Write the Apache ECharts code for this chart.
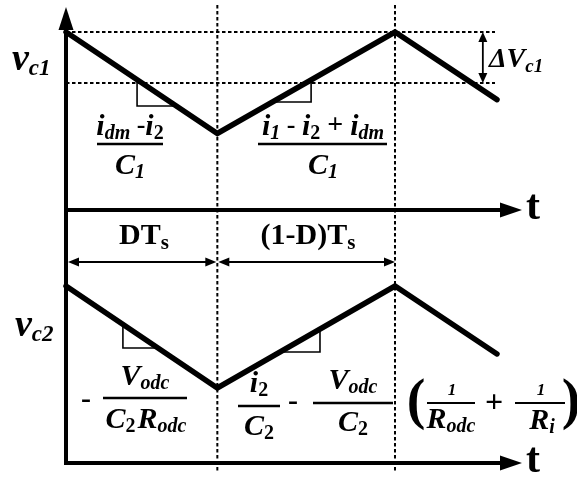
<!DOCTYPE html>
<html>
<head>
<meta charset="utf-8">
<script src="https://cdn.jsdelivr.net/npm/echarts@6/dist/echarts.min.js"></script>
<style>
html,body{margin:0;padding:0;background:#fff;}
#chart{width:577px;height:479px;}
</style>
</head>
<body>
<div id="chart"></div>
<script>
// Switching period normalised to Ts = 1, duty ratio D
const D = 0.46;
const timePoints = [0, D, 1, 1.31];
const vc1Values = [1, 0.43, 1, 0.62];
const vc2Values = [1, 0.424, 1, 0.616];
// Ripple band levels for ΔVc1 and where its dashed guides stop
const rippleLevels = [1, 0.7135];
const rippleGuideEnd = 1.304;
const rippleArrowT = 1.267;
// Slope markers (right-angle triangles) on each ramp
const slopeTopFall = [[0.216, 0.732], [0.216, 0.584], [0.336, 0.584]];
const slopeTopRise = [[0.628, 0.607], [0.745, 0.607], [0.745, 0.731]];
const slopeBotFall = [[0.173, 0.783], [0.173, 0.65], [0.28, 0.65]];
const slopeBotRise = [[0.65, 0.627], [0.772, 0.627], [0.772, 0.757]];
// Level of the interval arrows (bottom panel units)
const intervalLevel = 1.1356;

const X_MAX = 1.3526;
const Y1_MAX = 1.0758;
const Y2_MAX = 1.4294;

const FONT = '"Liberation Serif", "Times New Roman", serif';
const chart = echarts.init(document.getElementById('chart'), null, {renderer: 'canvas'});

const pair = (ts, vs) => ts.map((t, i) => [t, vs[i]]);

function axisStyle(arrowSize) {
  const a = {
    show: true,
    onZero: false,
    lineStyle: {color: '#000', width: 4, cap: 'square'}
  };
  if (arrowSize) {
    a.symbol = ['none', 'triangle'];
    a.symbolSize = arrowSize;
  }
  return a;
}
const hidden = {axisTick: {show: false}, axisLabel: {show: false}, splitLine: {show: false}};

function waveSeries(idx, data) {
  return {
    type: 'line', xAxisIndex: idx, yAxisIndex: idx, data: data,
    symbol: 'none', silent: true, animation: false, clip: false,
    lineStyle: {color: '#000', width: 5.5, join: 'miter', cap: 'round'}
  };
}
function slopeSeries(idx, data) {
  return {
    type: 'line', xAxisIndex: idx, yAxisIndex: idx, data: data,
    symbol: 'none', silent: true, animation: false, z: 1,
    lineStyle: {color: '#000', width: 1.6, join: 'miter'}
  };
}

const option = {
  animation: false,
  backgroundColor: '#fff',
  grid: [
    {left: 66, top: 18.5, width: 445, height: 191.5},
    {left: 66, top: 210, width: 445, height: 253}
  ],
  xAxis: [
    Object.assign({type: 'value', gridIndex: 0, min: 0, max: X_MAX, axisLine: axisStyle([15, 22])}, hidden),
    Object.assign({type: 'value', gridIndex: 1, min: 0, max: X_MAX, axisLine: axisStyle([15, 22])}, hidden)
  ],
  yAxis: [
    Object.assign({type: 'value', gridIndex: 0, min: 0, max: Y1_MAX, axisLine: axisStyle([15, 23])}, hidden),
    Object.assign({type: 'value', gridIndex: 1, min: 0, max: Y2_MAX, axisLine: axisStyle(null)}, hidden)
  ],
  series: [
    Object.assign(waveSeries(0, pair(timePoints, vc1Values)), {
      markLine: {
        silent: true, symbol: 'none', label: {show: false}, animation: false,
        lineStyle: {color: '#000', width: 2, type: [3.5, 2.5]},
        data: rippleLevels.map(v => [{coord: [0, v]}, {coord: [rippleGuideEnd, v]}])
      }
    }),
    waveSeries(1, pair(timePoints, vc2Values)),
    slopeSeries(0, slopeTopFall),
    slopeSeries(0, slopeTopRise),
    slopeSeries(1, slopeBotFall),
    slopeSeries(1, slopeBotRise)
  ]
};
chart.setOption(option);

// ---------- annotations ----------
const px = (g, t, v) => chart.convertToPixel({xAxisIndex: g, yAxisIndex: g}, [t, v]);
const measure = document.createElement('canvas').getContext('2d');
function fontOf(size, italic, bold) {
  return (italic ? 'italic ' : '') + (bold === false ? '' : 'bold ') + size + 'px ' + FONT;
}
// pieces: [text, size, italic, dy, bold]
function run(pieces, x, y, align) {
  const widths = pieces.map(p => { measure.font = fontOf(p[1], p[2], p[4]); return measure.measureText(p[0]).width; });
  const total = widths.reduce((a, b) => a + b, 0);
  let cx = align === 'center' ? x - total / 2 : (align === 'right' ? x - total : x);
  return pieces.map((p, i) => {
    const el = {
      type: 'text', x: cx, y: y + (p[3] || 0), silent: true, z: 10,
      style: {text: p[0], font: fontOf(p[1], p[2], p[4]), fill: '#000',
              align: 'left', verticalAlign: 'middle'}
    };
    cx += widths[i];
    return el;
  });
}
function hline(x1, x2, y, w) {
  return {type: 'line', silent: true, z: 10, shape: {x1: x1, y1: y, x2: x2, y2: y}, style: {stroke: '#000', lineWidth: w || 2.5}};
}
function arrowHead(x, y, dir, len, half) {
  // dir: direction the tip points
  let pts;
  if (dir === 'l') pts = [[x, y], [x + len, y - half], [x + len, y + half]];
  else if (dir === 'r') pts = [[x, y], [x - len, y - half], [x - len, y + half]];
  else if (dir === 'u') pts = [[x, y], [x - half, y + len], [x + half, y + len]];
  else pts = [[x, y], [x - half, y - len], [x + half, y - len]];
  return {type: 'polygon', silent: true, z: 10, shape: {points: pts}, style: {fill: '#000'}};
}

const els = [];

// vertical switching-instant guides
[D, 1].forEach(t => {
  const x = px(0, t, 0)[0];
  els.push({type: 'line', silent: true, z: 2, shape: {x1: x, y1: 5, x2: x, y2: 472},
            style: {stroke: '#000', lineWidth: 2, lineDash: [3.5, 2.5]}});
});

// ΔVc1 double arrow
{
  const x = px(0, rippleArrowT, 0)[0];
  const yTop = px(0, 0, rippleLevels[0])[1];
  const yBot = px(0, 0, rippleLevels[1])[1];
  els.push({type: 'line', silent: true, z: 10, shape: {x1: x, y1: yTop + 6, x2: x, y2: yBot - 6}, style: {stroke: '#000', lineWidth: 1.8}});
  els.push(arrowHead(x, yTop, 'u', 10, 4.5));
  els.push(arrowHead(x, yBot, 'd', 10, 4.5));
}

// DTs and (1-D)Ts interval arrows
{
  const y = px(1, 0, intervalLevel)[1];
  const x0 = px(1, 0, 0)[0] + 2;
  const xD = px(1, D, 0)[0];
  const x1 = px(1, 1, 0)[0];
  [[x0, xD - 1], [xD + 1, x1]].forEach(([a, b]) => {
    els.push({type: 'line', silent: true, z: 10, shape: {x1: a + 5, y1: y, x2: b - 5, y2: y}, style: {stroke: '#000', lineWidth: 1.8}});
    els.push(arrowHead(a, y, 'l', 11, 4.5));
    els.push(arrowHead(b, y, 'r', 11, 4.5));
  });
}

// axis labels
els.push(...run([['v', 38, true, 0], ['c1', 23, true, 9]], 12, 60, 'left'));
els.push(...run([['v', 38, true, 0], ['c2', 23, true, 9]], 15, 326, 'left'));
els.push(...run([['t', 42, false, 0]], 533, 208, 'center'));
els.push(...run([['t', 42, false, 0]], 533, 461, 'center'));
els.push(...run([['ΔV', 28, true, 0], ['c1', 19, true, 7]], 489, 60, 'left'));
els.push(...run([['DT', 30, false, 0], ['s', 21, false, 8]], 144, 236, 'center'));
els.push(...run([['(1-D)T', 30, false, 0], ['s', 21, false, 8]], 308, 236, 'center'));

// top panel slopes
els.push(...run([['i', 30, true, 0], ['dm', 20, true, 7], [' -', 26, false, -1], ['i', 30, true, 0], ['2', 20, false, 7]], 130, 127, 'center'));
els.push(hline(97, 163, 144));
els.push(...run([['C', 30, true, 0], ['1', 20, true, 7]], 130, 166, 'center'));

els.push(...run([['i', 30, true, 0], ['1', 20, true, 7], [' - ', 26, false, -1], ['i', 30, true, 0], ['2', 20, false, 7],
                 [' + ', 28, false, -1], ['i', 30, true, 0], ['dm', 20, true, 7]], 323, 127, 'center'));
els.push(hline(258, 387, 144));
els.push(...run([['C', 30, true, 0], ['1', 20, true, 7]], 323, 166, 'center'));

// bottom panel slopes
els.push(...run([['-', 30, false, 0]], 86, 400, 'center'));
els.push(...run([['V', 30, true, 0], ['odc', 20, true, 7]], 145, 377, 'center'));
els.push(hline(103, 187, 398));
els.push(...run([['C', 30, true, 0], ['2', 20, false, 7], [' ', 8, false, 0], ['R', 30, true, 0], ['odc', 20, true, 7]], 146, 420, 'center'));

els.push(...run([['i', 30, true, 0], ['2', 20, false, 7]], 259, 384, 'center'));
els.push(hline(238, 280, 406));
els.push(...run([['C', 30, true, 0], ['2', 20, false, 7]], 259, 427, 'center'));

els.push(...run([['-', 30, false, 0]], 293, 402, 'center'));
els.push(...run([['V', 30, true, 0], ['odc', 20, true, 7]], 353, 381, 'center'));
els.push(hline(313, 393, 403));
els.push(...run([['C', 30, true, 0], ['2', 20, false, 7]], 353, 423, 'center'));

els.push(...run([['(', 56, false, 0]], 416, 404, 'center'));
els.push(...run([['1', 17, true, 0]], 452, 391, 'center'));
els.push(hline(427, 475, 403, 2));
els.push(...run([['R', 30, true, 0], ['odc', 20, true, 7]], 451, 420, 'center'));
els.push(...run([['+', 32, false, 0]], 494, 404, 'center'));
els.push(...run([['1', 17, true, 0]], 541, 391, 'center'));
els.push(hline(515, 565, 403, 2));
els.push(...run([['R', 30, true, 0], ['i', 20, true, 7]], 542, 421, 'center'));
els.push(...run([[')', 56, false, 0]], 571, 404, 'center'));

chart.setOption({graphic: {elements: els}});
</script>
</body>
</html>
